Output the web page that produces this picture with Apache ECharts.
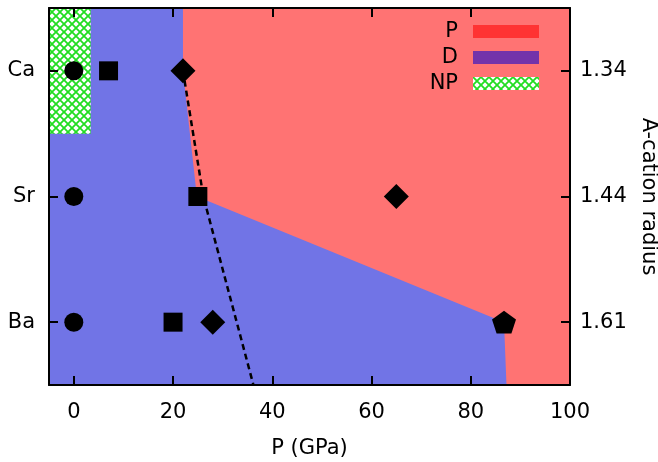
<!DOCTYPE html>
<html>
<head>
<meta charset="utf-8">
<script src="https://cdn.jsdelivr.net/npm/echarts@6/dist/echarts.min.js"></script>
<style>
  html, body { margin: 0; padding: 0; background: #fff; }
  #chart { width: 658px; height: 462px; }
</style>
</head>
<body>
<div id="chart"></div>
<script>
// A-site cations and their radii (rows, top to bottom)
const cations = ['Ca', 'Sr', 'Ba'];
const radii = ['1.34', '1.44', '1.61'];
const xTicks = [0, 20, 40, 60, 80, 100];

// pressure (GPa) of each marker, one per cation row (null = none)
const circleP = [0, 0, 0];
const squareP = [7, 25, 20];
const diamondP = [22, 65, 28];
const pentagonP = [null, null, 86.7];

// phase region outlines [P, row]
const dRegion = [[-5, 0.5], [100, 0.5], [100, 3.5], [-5, 3.5]];
const pRegion = [[22, 0.5], [22, 1], [24.8, 2], [86.7, 3], [87.2, 3.5], [100, 3.5], [100, 0.5]];
const npRegion = [[-5, 0.5], [3.4, 0.5], [3.4, 1.5], [-5, 1.5]];

// dashed boundary
const dashLine = [[22, 1], [26.1, 2], [36.2, 3.5]];

const FONT = 'DejaVu Sans';
const FS = 21;

function rows(xs) {
  return xs.map((x, i) => x == null ? null : [x, i + 1]).filter(Boolean);
}

// green cross-hatch for the NP region
function hatch() {
  const c = document.createElement('canvas');
  c.width = 8; c.height = 8;
  const g = c.getContext('2d');
  g.fillStyle = '#ffffff';
  g.fillRect(0, 0, 8, 8);
  g.strokeStyle = '#22dd22';
  g.lineWidth = 1.8;
  g.beginPath();
  g.moveTo(-1, -1); g.lineTo(9, 9);
  g.moveTo(9, -1); g.lineTo(-1, 9);
  g.stroke();
  return { image: c, repeat: 'repeat' };
}
const npFill = hatch();

function regionSeries(name, pts, fill) {
  return {
    type: 'custom',
    name: name,
    data: [0],
    silent: true,
    z: 1,
    itemStyle: { color: fill },
    renderItem: (params, api) => ({
      type: 'polygon',
      shape: { points: pts.map(p => api.coord(p)) },
      style: { fill: fill, stroke: null }
    })
  };
}

const pentagon = 'path://M50 0 L97.6 34.5 L79.4 90.5 L20.6 90.5 L2.4 34.5 Z';

function markers(xs, symbol, size) {
  return {
    type: 'scatter',
    data: rows(xs),
    symbol: symbol,
    symbolSize: size,
    symbolKeepAspect: true,
    itemStyle: { color: '#000', opacity: 1 },
    z: 5
  };
}

const axisLine = { show: true, onZero: false, lineStyle: { color: '#000', width: 2 } };
const tick = { show: true, inside: true, length: 9, lineStyle: { color: '#000', width: 2 } };

const chart = echarts.init(document.getElementById('chart'));
chart.setOption({
  animation: false,
  textStyle: { fontFamily: FONT },
  grid: { left: 49, right: 88, top: 8, bottom: 77, outerBoundsMode: 'none', containLabel: false },
  legend: {
    orient: 'vertical',
    right: 119,
    top: 21,
    padding: 0,
    align: 'right',
    itemWidth: 66,
    itemHeight: 13,
    itemGap: 5,
    icon: 'rect',
    textStyle: { fontFamily: FONT, fontSize: FS, color: '#000', padding: [0, 10, 0, 0] },
    data: [
      { name: 'P', itemStyle: { color: '#ff3333' } },
      { name: 'D', itemStyle: { color: '#7333aa' } },
      { name: 'NP', itemStyle: { color: npFill } }
    ]
  },
  xAxis: [{
    type: 'value', min: -5, max: 100, position: 'bottom', z: 10,
    name: 'P (GPa)', nameLocation: 'middle', nameGap: 53,
    nameTextStyle: { fontFamily: FONT, fontSize: FS, color: '#000' },
    axisLine: axisLine,
    axisTick: Object.assign({ customValues: xTicks }, tick),
    axisLabel: { customValues: xTicks, fontFamily: FONT, fontSize: FS, color: '#000', margin: 17 },
    splitLine: { show: false }
  }, {
    type: 'value', min: -5, max: 100, position: 'top', z: 10,
    axisLine: axisLine,
    axisTick: Object.assign({ customValues: xTicks }, tick),
    axisLabel: { show: false },
    splitLine: { show: false }
  }],
  yAxis: [{
    type: 'value', min: 0.5, max: 3.5, inverse: true, position: 'left', z: 10,
    axisLine: axisLine,
    axisTick: Object.assign({ customValues: [1, 2, 3] }, tick),
    axisLabel: {
      customValues: [1, 2, 3], formatter: v => cations[Math.round(v) - 1],
      fontFamily: FONT, fontSize: FS, color: '#000', margin: 14
    },
    splitLine: { show: false }
  }, {
    type: 'value', min: 0.5, max: 3.5, inverse: true, position: 'right', z: 10,
    name: 'A-cation radius', nameLocation: 'middle', nameGap: 68, nameRotate: -90,
    nameTextStyle: { fontFamily: FONT, fontSize: FS, color: '#000' },
    axisLine: axisLine,
    axisTick: Object.assign({ customValues: [1, 2, 3] }, tick),
    axisLabel: {
      customValues: [1, 2, 3], formatter: v => radii[Math.round(v) - 1],
      fontFamily: FONT, fontSize: FS, color: '#000', margin: 10
    },
    splitLine: { show: false }
  }],
  series: [
    regionSeries('D', dRegion, '#7174e6'),
    regionSeries('P', pRegion, '#ff7373'),
    regionSeries('NP', npRegion, npFill),
    {
      type: 'line',
      data: dashLine,
      symbol: 'none',
      lineStyle: { color: '#000', width: 2.5, type: [6, 4] },
      z: 4
    },
    markers(circleP, 'circle', 19),
    markers(squareP, 'rect', 19),
    markers(diamondP, 'diamond', 25),
    markers(pentagonP, pentagon, 24)
  ]
});
</script>
</body>
</html>
